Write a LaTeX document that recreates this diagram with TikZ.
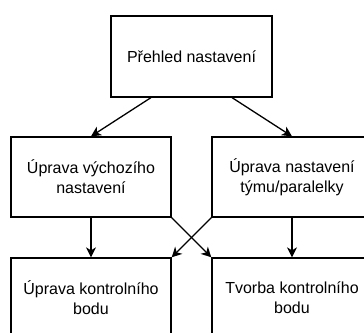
\documentclass[tikz,border=0pt]{standalone}
\usepackage{fontspec}
\setmainfont{Liberation Sans}
\usetikzlibrary{arrows.meta,calc}
\begin{document}
\begin{tikzpicture}[x=1pt,y=-1pt,
  box/.style={draw=black, line width=1.3pt, fill=white, minimum width=160pt,
    minimum height=80pt, inner sep=0pt, align=center,
    font=\fontsize{16}{20}\selectfont},
  conn/.style={draw=black, line width=1.3pt,
    -{Stealth[length=10pt,width=10pt,inset=3pt]}}]
  \clip (0,0) rectangle (364,332);
  \fill[white] (0,0) rectangle (364,332);
  \node[box, minimum width=161pt, minimum height=81pt] (top) at (191.5,56.5) {Přehled nastavení};
  \node[box] (lm) at (91,177) {Úprava výchozího\\nastavení};
  \node[box] (rm) at (292,177) {Úprava nastavení\\týmu/paralelky};
  \node[box] (bl) at (91,298) {Úprava kontrolního\\bodu};
  \node[box] (br) at (292,298) {Tvorba kontrolního\\bodu};
  \draw[conn] ($(top.south west)!0.25!(top.south east)$) -- (lm.north);
  \draw[conn] ($(top.south west)!0.75!(top.south east)$) -- (rm.north);
  \draw[conn] (lm.south) -- (bl.north);
  \draw[conn] (rm.south) -- (br.north);
  \draw[conn] (lm.south east) -- (br.north west);
  \draw[conn] (rm.south west) -- (bl.north east);
\end{tikzpicture}
\end{document}
